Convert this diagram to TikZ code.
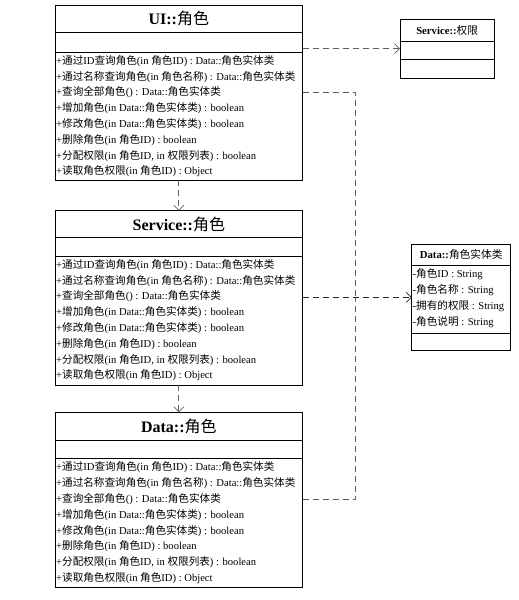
\documentclass[tikz,border=0pt]{standalone}
\usepackage{fontspec}
\setmainfont{Liberation Serif}
\newfontfamily\cjkfont{Noto Sans CJK SC}
\usetikzlibrary{arrows.meta}
\XeTeXinterchartokenstate=1
\newXeTeXintercharclass\CJKcls
\newcount\cjkc
\cjkc="4E00
\loop\ifnum\cjkc<"A000 \XeTeXcharclass\cjkc=\CJKcls\relax\advance\cjkc by 1\relax\repeat
\XeTeXinterchartoks 0 \CJKcls = {\begingroup\cjkfont\mdseries}
\XeTeXinterchartoks 4095 \CJKcls = {\begingroup\cjkfont\mdseries}
\XeTeXinterchartoks \CJKcls 0 = {\endgroup}
\XeTeXinterchartoks \CJKcls 4095 = {\endgroup}
\def\ops{{+通过ID查询角色(in 角色ID) : Data::角色实体类},{+通过名称查询角色(in 角色名称) : Data::角色实体类},{+查询全部角色() : Data::角色实体类},{+增加角色(in Data::角色实体类) : boolean},{+修改角色(in Data::角色实体类) : boolean},{+删除角色(in 角色ID) : boolean},{+分配权限(in 角色ID, in 权限列表) : boolean},{+读取角色权限(in 角色ID) : Object}}
\def\attrs{{-角色ID : String},{-角色名称 : String},{-拥有的权限 : String},{-角色说明 : String}}
\begin{document}
\begin{tikzpicture}[x=1pt,y=-1pt,
  cls/.style={draw, line width=1pt, inner sep=0, outer sep=0, anchor=north west},
  hdr/.style={font=\fontsize{16}{18}\selectfont\bfseries, inner sep=0},
  shdr/.style={font=\fontsize{10.7}{12}\selectfont\bfseries, inner sep=0},
  row/.style={font=\fontsize{10.6}{12}\selectfont, anchor=west, inner sep=0},
  srow/.style={font=\fontsize{10.6}{12}\selectfont, anchor=west, inner sep=0},
  sep/.style={line width=1pt},
  dep/.style={dash pattern=on 6pt off 4pt, draw=black!62, line width=1pt},
  tip/.style={-{Straight Barb[length=5pt,width=10pt,line width=0.7pt]}}]
\useasboundingbox (0,0) rectangle (519,600);

% UI class
\node[cls, minimum width=247.7pt, minimum height=175pt] (ui) at (55,5) {};
\draw[sep] (55,32) -- (302.7,32);
\draw[sep] (55,52) -- (302.7,52);
\node[hdr] (uih) at (178.85,18.5) {UI::角色};
\foreach \t [count=\i from 0] in \ops { \node[row, name=ui-\i] at (56,61+15.8*\i) {\t}; }

% Service class
\node[cls, minimum width=247.7pt, minimum height=174.3pt] (svc) at (55,210.7) {};
\draw[sep] (55,237.7) -- (302.7,237.7);
\draw[sep] (55,256) -- (302.7,256);
\node[hdr] (svch) at (178.85,224.2) {Service::角色};
\foreach \t [count=\i from 0] in \ops { \node[row, name=svc-\i] at (56,265+15.8*\i) {\t}; }

% Data class
\node[cls, minimum width=247.7pt, minimum height=174.7pt] (dat) at (55,412.3) {};
\draw[sep] (55,440) -- (302.7,440);
\draw[sep] (55,458.7) -- (302.7,458.7);
\node[hdr] (dath) at (178.85,426.2) {Data::角色};
\foreach \t [count=\i from 0] in \ops { \node[row, name=dat-\i] at (56,467.5+15.8*\i) {\t}; }

% Service::权限
\node[cls, minimum width=94.3pt, minimum height=59.3pt] (perm) at (400,19) {};
\draw[sep] (400,41) -- (494.3,41);
\draw[sep] (400,59.3) -- (494.3,59.3);
\node[shdr] (permh) at (447.15,30) {Service::权限};

% Data::角色实体类
\node[cls, minimum width=99pt, minimum height=106.7pt] (ent) at (411.7,244) {};
\draw[sep] (411.7,265) -- (510.7,265);
\draw[sep] (411.7,333.3) -- (510.7,333.3);
\node[shdr] (enth) at (461.2,254.5) {Data::角色实体类};
\foreach \t [count=\i from 0] in \attrs { \node[srow, name=ent-\i] at (412.5,274.5+15.8*\i) {\t}; }

% connectors
\coordinate (junc) at (355.5,297.35);
\draw[dep,tip] (ui.south) -- (svc.north);
\draw[dep,tip] (svc.south) -- (dat.north);
\draw[dep,tip] (ui.east |- perm.west) -- (perm.west);
\draw[dep] (ui.east |- ui-2) -| (junc);
\draw[dep] (dat.east |- dat-2) -| (junc);
\draw[dep,draw=black!85,tip] (svc.east |- ent.west) -- (ent.west);
\end{tikzpicture}
\end{document}
